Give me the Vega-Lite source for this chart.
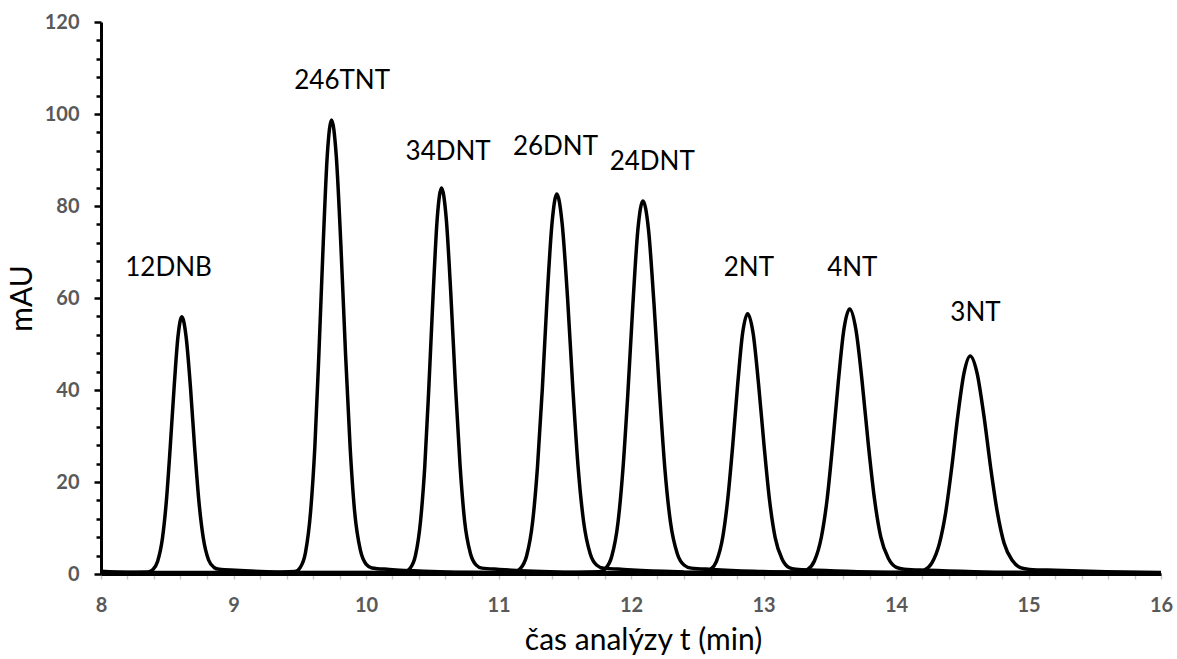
{
  "$schema": "https://vega.github.io/schema/vega-lite/v6.json",
  "width": 1060,
  "height": 552,
  "autosize": {"type": "none"},
  "padding": {"left": 101, "top": 22, "right": 16, "bottom": 85},
  "background": "white",
  "config": {"view": {"stroke": null}, "font": "Lato"},
  "datasets": {
    "trace": [
      {"s":"a","t":8.0,"v":0.6},{"s":"a","t":8.2,"v":0.4},{"s":"a","t":8.354,"v":0.42},{"s":"a","t":8.39,"v":0.92},{"s":"a","t":8.427,"v":2.74},{"s":"a","t":8.464,"v":7.82},{"s":"a","t":8.493,"v":15.76},{"s":"a","t":8.522,"v":27.37},{"s":"a","t":8.552,"v":40.67},{"s":"a","t":8.581,"v":51.62},{"s":"a","t":8.61,"v":55.9},{"s":"a","t":8.642,"v":51.62},{"s":"a","t":8.675,"v":40.67},{"s":"a","t":8.707,"v":27.37},{"s":"a","t":8.739,"v":15.76},{"s":"a","t":8.772,"v":7.82},{"s":"a","t":8.812,"v":3.04},{"s":"a","t":8.853,"v":1.42},{"s":"a","t":8.893,"v":1.02},{"s":"a","t":9.015,"v":0.8},{"s":"a","t":9.257,"v":0.5},{"s":"a","t":9.6,"v":0.3},{"s":"a","t":12.4,"v":0.2},
      {"s":"b","t":8.0,"v":0.3},{"s":"b","t":9.2,"v":0.3},{"s":"b","t":9.464,"v":0.52},{"s":"b","t":9.503,"v":1.39},{"s":"b","t":9.543,"v":4.62},{"s":"b","t":9.582,"v":13.61},{"s":"b","t":9.614,"v":27.66},{"s":"b","t":9.645,"v":48.2},{"s":"b","t":9.677,"v":71.75},{"s":"b","t":9.708,"v":91.13},{"s":"b","t":9.74,"v":98.7},{"s":"b","t":9.775,"v":91.13},{"s":"b","t":9.81,"v":71.75},{"s":"b","t":9.845,"v":48.2},{"s":"b","t":9.88,"v":27.66},{"s":"b","t":9.914,"v":13.61},{"s":"b","t":9.958,"v":5.12},{"s":"b","t":10.002,"v":2.09},{"s":"b","t":10.045,"v":1.32},{"s":"b","t":10.176,"v":1.0},{"s":"b","t":10.438,"v":0.6},{"s":"b","t":10.9,"v":0.3},{"s":"b","t":12.4,"v":0.25},
      {"s":"c","t":8.0,"v":0.2},{"s":"c","t":10.0,"v":0.3},{"s":"c","t":10.294,"v":0.48},{"s":"c","t":10.333,"v":1.23},{"s":"c","t":10.373,"v":3.97},{"s":"c","t":10.412,"v":11.61},{"s":"c","t":10.444,"v":23.54},{"s":"c","t":10.475,"v":41.0},{"s":"c","t":10.507,"v":61.0},{"s":"c","t":10.538,"v":77.47},{"s":"c","t":10.57,"v":83.9},{"s":"c","t":10.605,"v":77.47},{"s":"c","t":10.64,"v":61.0},{"s":"c","t":10.675,"v":41.0},{"s":"c","t":10.71,"v":23.54},{"s":"c","t":10.744,"v":11.61},{"s":"c","t":10.788,"v":4.47},{"s":"c","t":10.832,"v":1.93},{"s":"c","t":10.875,"v":1.28},{"s":"c","t":11.006,"v":1.0},{"s":"c","t":11.268,"v":0.6},{"s":"c","t":11.7,"v":0.3},{"s":"c","t":12.4,"v":0.3},
      {"s":"d","t":8.0,"v":0.2},{"s":"d","t":10.8,"v":0.3},{"s":"d","t":11.121,"v":0.48},{"s":"d","t":11.166,"v":1.21},{"s":"d","t":11.212,"v":3.91},{"s":"d","t":11.258,"v":11.44},{"s":"d","t":11.294,"v":23.18},{"s":"d","t":11.331,"v":40.36},{"s":"d","t":11.367,"v":60.06},{"s":"d","t":11.404,"v":76.27},{"s":"d","t":11.44,"v":82.6},{"s":"d","t":11.48,"v":76.27},{"s":"d","t":11.521,"v":60.06},{"s":"d","t":11.561,"v":40.36},{"s":"d","t":11.601,"v":23.18},{"s":"d","t":11.642,"v":11.44},{"s":"d","t":11.692,"v":4.41},{"s":"d","t":11.742,"v":1.91},{"s":"d","t":11.793,"v":1.28},{"s":"d","t":11.944,"v":1.0},{"s":"d","t":12.246,"v":0.6},{"s":"d","t":12.4,"v":0.45},
      {"s":"e","t":8.0,"v":0.1},{"s":"e","t":11.4,"v":0.3},{"s":"e","t":11.761,"v":0.48},{"s":"e","t":11.808,"v":1.2},{"s":"e","t":11.855,"v":3.85},{"s":"e","t":11.902,"v":11.23},{"s":"e","t":11.939,"v":22.76},{"s":"e","t":11.977,"v":39.63},{"s":"e","t":12.015,"v":58.97},{"s":"e","t":12.052,"v":74.89},{"s":"e","t":12.09,"v":81.1},{"s":"e","t":12.132,"v":74.89},{"s":"e","t":12.173,"v":58.97},{"s":"e","t":12.215,"v":39.63},{"s":"e","t":12.256,"v":22.76},{"s":"e","t":12.298,"v":11.23},{"s":"e","t":12.35,"v":4.35},{"s":"e","t":12.402,"v":1.9},{"s":"e","t":12.454,"v":1.28},{"s":"e","t":12.61,"v":1.0},{"s":"e","t":12.922,"v":0.6},{"s":"e","t":13.4,"v":0.3},{"s":"e","t":16.0,"v":0.2},
      {"s":"f","t":12.4,"v":0.3},{"s":"f","t":12.551,"v":0.42},{"s":"f","t":12.598,"v":0.92},{"s":"f","t":12.645,"v":2.77},{"s":"f","t":12.692,"v":7.92},{"s":"f","t":12.729,"v":15.95},{"s":"f","t":12.767,"v":27.71},{"s":"f","t":12.805,"v":41.18},{"s":"f","t":12.842,"v":52.27},{"s":"f","t":12.88,"v":56.6},{"s":"f","t":12.922,"v":52.27},{"s":"f","t":12.963,"v":41.18},{"s":"f","t":13.005,"v":27.71},{"s":"f","t":13.046,"v":15.95},{"s":"f","t":13.088,"v":7.92},{"s":"f","t":13.14,"v":3.27},{"s":"f","t":13.192,"v":1.42},{"s":"f","t":13.244,"v":1.02},{"s":"f","t":13.4,"v":0.8},{"s":"f","t":13.712,"v":0.5},{"s":"f","t":14.2,"v":0.3},{"s":"f","t":16.0,"v":0.25},
      {"s":"g","t":12.4,"v":0.3},{"s":"g","t":13.278,"v":0.43},{"s":"g","t":13.331,"v":0.94},{"s":"g","t":13.384,"v":2.82},{"s":"g","t":13.437,"v":8.05},{"s":"g","t":13.48,"v":16.23},{"s":"g","t":13.522,"v":28.19},{"s":"g","t":13.565,"v":41.91},{"s":"g","t":13.607,"v":53.19},{"s":"g","t":13.65,"v":57.6},{"s":"g","t":13.697,"v":53.19},{"s":"g","t":13.744,"v":41.91},{"s":"g","t":13.791,"v":28.19},{"s":"g","t":13.838,"v":16.23},{"s":"g","t":13.885,"v":8.05},{"s":"g","t":13.944,"v":3.32},{"s":"g","t":14.003,"v":1.44},{"s":"g","t":14.062,"v":1.03},{"s":"g","t":14.238,"v":0.8},{"s":"g","t":14.591,"v":0.5},{"s":"g","t":15.2,"v":0.3},{"s":"g","t":16.0,"v":0.25},
      {"s":"h","t":12.4,"v":0.3},{"s":"h","t":14.154,"v":0.4},{"s":"h","t":14.212,"v":0.82},{"s":"h","t":14.27,"v":2.37},{"s":"h","t":14.328,"v":6.67},{"s":"h","t":14.375,"v":13.39},{"s":"h","t":14.421,"v":23.23},{"s":"h","t":14.467,"v":34.5},{"s":"h","t":14.514,"v":43.78},{"s":"h","t":14.56,"v":47.4},{"s":"h","t":14.611,"v":43.78},{"s":"h","t":14.663,"v":34.5},{"s":"h","t":14.714,"v":23.23},{"s":"h","t":14.765,"v":13.39},{"s":"h","t":14.816,"v":6.67},{"s":"h","t":14.88,"v":2.87},{"s":"h","t":14.944,"v":1.32},{"s":"h","t":15.008,"v":1.0},{"s":"h","t":15.2,"v":0.8},{"s":"h","t":15.585,"v":0.5},{"s":"h","t":16.0,"v":0.3}
    ],
    "labels": [
      {"name":"12DNB","t":8.51,"v":66.5},
      {"name":"246TNT","t":9.82,"v":107.2},
      {"name":"34DNT","t":10.62,"v":91.7},
      {"name":"26DNT","t":11.43,"v":92.8},
      {"name":"24DNT","t":12.16,"v":89.6},
      {"name":"2NT","t":12.89,"v":66.5},
      {"name":"4NT","t":13.67,"v":66.5},
      {"name":"3NT","t":14.6,"v":56.8}
    ]
  },
  "layer": [
    {
      "data": {"name": "trace"},
      "mark": {"type": "line", "color": "black", "strokeWidth": 3.5, "interpolate": "monotone", "clip": true},
      "encoding": {
        "x": {
          "field": "t", "type": "quantitative",
          "scale": {"domain": [8, 16], "nice": false, "zero": false},
          "axis": {
            "title": "čas analýzy t (min)",
            "titleFont": "Lato", "titleFontSize": 30, "titleFontWeight": "normal", "titleColor": "#000000",
            "titleX": 542, "titleY": 66, "titleAlign": "center", "titleBaseline": "middle",
            "tickCount": 200,
            "values": [8,8.2,8.4,8.6,8.8,9,9.2,9.4,9.6,9.8,10,10.2,10.4,10.6,10.8,11,11.2,11.4,11.6,11.8,12,12.2,12.4,12.6,12.8,13,13.2,13.4,13.6,13.8,14,14.2,14.4,14.6,14.8,15,15.2,15.4,15.6,15.8,16],
            "labelExpr": "abs(datum.value - round(datum.value)) < 0.001 ? format(datum.value, 'd') : ''",
            "labelFont": "Lato", "labelFontSize": 20, "labelFontWeight": "bold", "labelColor": "#595959",
            "labelPadding": 16, "labelFlush": false, "labelOverlap": false,
            "grid": false,
            "domainColor": "#000000", "domainWidth": 3,
            "tickColor": "#c8c8c8", "tickWidth": 1.5, "tickSize": 5
          }
        },
        "y": {
          "field": "v", "type": "quantitative",
          "scale": {"domain": [0, 120], "nice": false},
          "axis": {
            "title": "mAU",
            "titleFont": "Lato", "titleFontSize": 30, "titleFontWeight": "normal", "titleColor": "#000000",
            "titleX": -79, "titleY": 276, "titleAlign": "center", "titleBaseline": "middle", "titleAngle": -90,
            "tickCount": 200,
            "values": [0,4,8,12,16,20,24,28,32,36,40,44,48,52,56,60,64,68,72,76,80,84,88,92,96,100,104,108,112,116,120],
            "labelExpr": "datum.value % 20 === 0 ? format(datum.value, 'd') : ''",
            "labelFont": "Lato", "labelFontSize": 20, "labelFontWeight": "bold", "labelColor": "#595959",
            "labelPadding": 15, "labelOverlap": false, "labelFlush": false,
            "grid": false,
            "domainColor": "#000000", "domainWidth": 3,
            "tickColor": "#000000", "tickWidth": 2.5,
            "tickSize": {"condition": {"test": "datum.value % 20 === 0", "value": 7}, "value": 5}
          }
        },
        "detail": {"field": "s", "type": "nominal"}
      }
    },
    {
      "data": {"name": "labels"},
      "mark": {"type": "text", "font": "Lato", "fontSize": 26, "color": "#000000", "align": "center", "baseline": "middle"},
      "encoding": {
        "x": {"field": "t", "type": "quantitative"},
        "y": {"field": "v", "type": "quantitative"},
        "text": {"field": "name", "type": "nominal"}
      }
    }
  ]
}
